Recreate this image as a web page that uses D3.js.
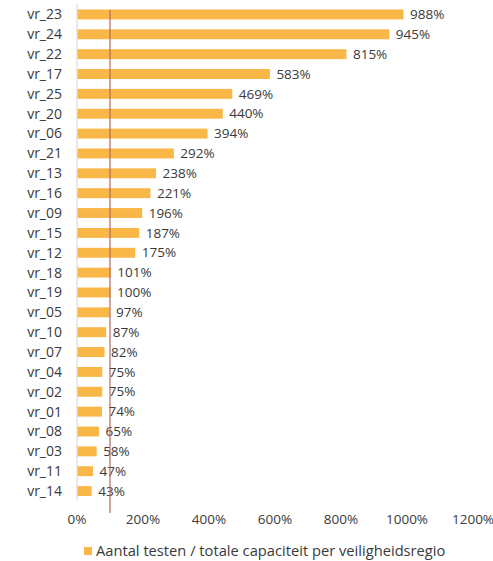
<!DOCTYPE html>
<html><head><meta charset="utf-8">
<script src="https://cdn.jsdelivr.net/npm/d3@7"></script>
<style>body{margin:0;background:#fff}svg{display:block}text{font-family:"Open Sans",sans-serif}</style>
</head><body>
<svg id="c" width="493" height="561"></svg>
<script>
const regions = ["vr_23","vr_24","vr_22","vr_17","vr_25","vr_20","vr_06","vr_21","vr_13","vr_16","vr_09","vr_15","vr_12","vr_18","vr_19","vr_05","vr_10","vr_07","vr_04","vr_02","vr_01","vr_08","vr_03","vr_11","vr_14"];
const values = [988,945,815,583,469,440,394,292,238,221,196,187,175,101,100,97,87,82,75,75,74,65,58,47,43];
const xTicks = [0,200,400,600,800,1000,1200];
const referenceLine = 100;
const legendLabel = "Aantal testen / totale capaciteit per veiligheidsregio";

const svg = d3.select("#c");
const x = d3.scaleLinear().domain([0,1200]).range([77,473]);
const y = d3.scaleBand().domain(regions).range([4.5,501]).paddingInner(0.5).paddingOuter(0.25);
const barColor = "#F9B747", textColor = "#3a3a3a";

svg.append("line").attr("x1",x(0)).attr("x2",x(0)).attr("y1",4).attr("y2",500)
  .attr("stroke","#d4d4d4").attr("stroke-width",1);

svg.selectAll("rect.bar").data(values).join("rect").attr("class","bar")
  .attr("x",x(0)+0.5).attr("y",(d,i)=>y(regions[i]))
  .attr("width",d=>x(d)-x(0)).attr("height",y.bandwidth()).attr("fill",barColor);

svg.selectAll("text.cat").data(regions).join("text").attr("class","cat")
  .attr("x",62).attr("y",d=>y(d)+y.bandwidth()/2).attr("dy","0.35em")
  .attr("text-anchor","end").attr("font-size",14).attr("fill",textColor).text(d=>d);

svg.selectAll("text.val").data(values).join("text").attr("class","val")
  .attr("x",d=>x(d)+7).attr("y",(d,i)=>y(regions[i])+y.bandwidth()/2).attr("dy","0.35em")
  .attr("font-size",13.5).attr("fill",textColor).text(d=>d+"%");

svg.append("line").attr("x1",x(referenceLine)).attr("x2",x(referenceLine)).attr("y1",10).attr("y2",513)
  .attr("stroke","#b06a60").attr("stroke-width",1.2);

const ax = svg.append("g").attr("transform","translate(0,519)");
ax.selectAll("text").data(xTicks).join("text")
  .attr("x",d=>x(d)).attr("dy","0.35em").attr("text-anchor","middle")
  .attr("font-size",13.5).attr("fill",textColor).text(d=>d+"%");

const lg = svg.append("g");
lg.append("rect").attr("x",84).attr("y",547).attr("width",8).attr("height",8).attr("fill",barColor);
lg.append("text").attr("x",96).attr("y",551).attr("dy","0.35em").attr("font-size",14.7)
  .attr("fill",textColor).text(legendLabel);
</script>
</body></html>
